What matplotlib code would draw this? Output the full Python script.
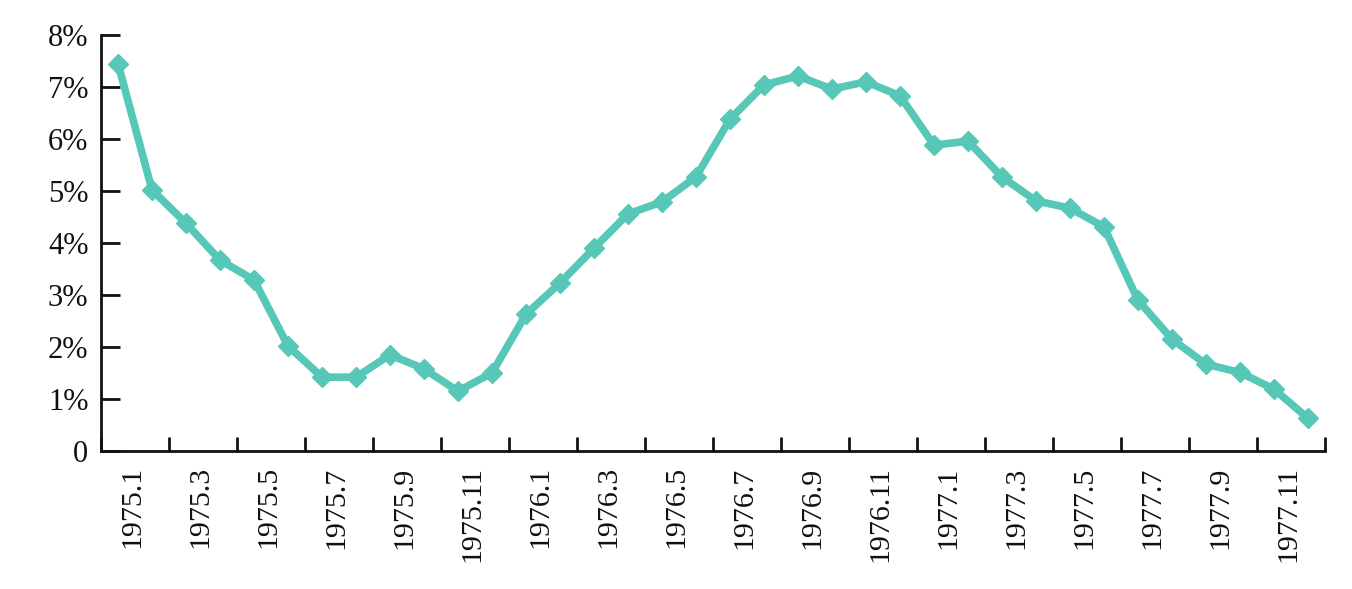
import matplotlib
matplotlib.use("Agg")
import matplotlib.pyplot as plt
from matplotlib.ticker import FuncFormatter
import numpy as np

# monthly values, 1975.1 .. 1977.12 (percent)
months = [f"{y}.{m}" for y in (1975, 1976, 1977) for m in range(1, 13)]
values = [7.45, 5.02, 4.38, 3.67, 3.29, 2.02, 1.42, 1.42, 1.85, 1.58, 1.15, 1.50,
          2.63, 3.23, 3.90, 4.56, 4.79, 5.27, 6.38, 7.04, 7.21, 6.96, 7.10, 6.83,
          5.88, 5.96, 5.27, 4.81, 4.67, 4.31, 2.90, 2.15, 1.67, 1.51, 1.19, 0.63]
yticks = [0, 1, 2, 3, 4, 5, 6, 7, 8]

plt.rcParams['font.family'] = ['Liberation Serif', 'DejaVu Serif']
color = '#57C7B8'

fig = plt.figure(figsize=(13.52, 5.89), dpi=100)
ax = fig.add_axes([0.0747, 0.2343, 0.9053, 0.7063])

x = np.arange(len(values))
ax.plot(x, values, color=color, lw=5.5, marker='D', ms=10, mec=color, mfc=color)

ax.set_xlim(-0.5, len(values) - 0.5)
ax.set_ylim(0, 8)

ax.spines['top'].set_visible(False)
ax.spines['right'].set_visible(False)
for s in ('left', 'bottom'):
    ax.spines[s].set_linewidth(2)
    ax.spines[s].set_color('#111111')

ax.set_yticks(yticks)
ax.yaxis.set_major_formatter(FuncFormatter(lambda v, p: "0" if v == 0 else f"{v:.0f}%"))
ax.tick_params(axis='y', direction='in', length=14, width=2, pad=9, labelsize=22,
               colors='#111111')

# boundary ticks every two months, labels on every other month
ax.set_xticks(np.arange(-0.5, len(values), 2))
ax.set_xticklabels([])
ax.tick_params(axis='x', which='major', direction='in', length=10, width=2, colors='#111111')
ax.set_xticks(x[::2] + 0.42, minor=True)
ax.set_xticklabels(months[::2], minor=True, rotation=90, fontsize=21.5, color='#111111')
ax.tick_params(axis='x', which='minor', length=0, pad=11)

fig.savefig("out.png", dpi=100)
